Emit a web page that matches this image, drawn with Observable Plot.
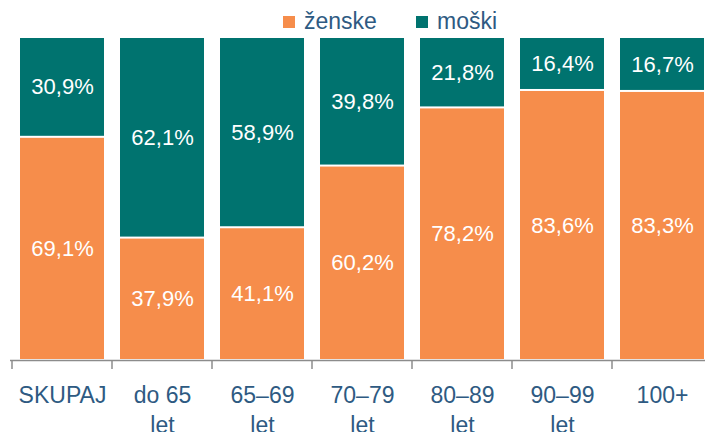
<!DOCTYPE html>
<html>
<head>
<meta charset="utf-8">
<script src="https://cdn.jsdelivr.net/npm/d3@7"></script>
<script src="https://cdn.jsdelivr.net/npm/@observablehq/plot@0.6"></script>
<style>
  html, body { margin: 0; padding: 0; background: #fff; overflow: hidden; width: 705px; height: 432px; }
  body { font-family: "Liberation Sans", Arial, sans-serif; }
  #legend { position: relative; height: 36px; width: 705px; }
  .item { position: absolute; top: 8px; display: flex; align-items: center; font-size: 23px; color: #2E5A82; line-height: 26px; }
  .sw { width: 12px; height: 12px; margin-right: 9px; margin-top: 1px; }
  #chart svg { max-width: none !important; display: block; }
</style>
</head>
<body>
<div id="legend">
  <div class="item" style="left:283px"><span class="sw" style="background:#F68D4B"></span>ženske</div>
  <div class="item" style="left:416px"><span class="sw" style="background:#00736F"></span>moški</div>
</div>
<div id="chart"></div>
<script>
const categories = ["SKUPAJ", "do 65 let", "65–69 let", "70–79 let", "80–89 let", "90–99 let", "100+"];
const tickLabels = ["SKUPAJ", "do 65\nlet", "65–69\nlet", "70–79\nlet", "80–89\nlet", "90–99\nlet", "100+"];
const zenske = [69.1, 37.9, 41.1, 60.2, 78.2, 83.6, 83.3];
const moski = [30.9, 62.1, 58.9, 39.8, 21.8, 16.4, 16.7];
const seriesNames = ["ženske", "moški"];
const colors = ["#F68D4B", "#00736F"];

const data = [];
categories.forEach((c, i) => {
  data.push({cat: c, spol: seriesNames[0], v: zenske[i]});
  data.push({cat: c, spol: seriesNames[1], v: moski[i]});
});
const fmt = v => v.toFixed(1).replace(".", ",") + "%";
const labelOf = Object.fromEntries(categories.map((c, i) => [c, tickLabels[i]]));

const chart = Plot.plot({
  width: 714,
  height: 396,
  marginLeft: 10,
  marginRight: 0,
  marginTop: 1,
  marginBottom: 72,
  style: {fontFamily: "'Liberation Sans', Arial, sans-serif", background: "white", maxWidth: "none"},
  x: {domain: categories, paddingInner: 0.165, paddingOuter: 0.0825, align: 0.5, label: null},
  y: {domain: [0, 100], axis: null},
  color: {domain: seriesNames, range: colors},
  marks: [
    Plot.barY(data, Plot.stackY({x: "cat", y: "v", fill: "spol", order: null, insetTop: 1, insetBottom: 1})),
    Plot.text(data, Plot.stackY({x: "cat", y: "v", z: "spol", order: null, text: d => fmt(d.v), fill: "white", fontSize: 22})),
    Plot.ruleY([0], {stroke: "#8C8C8C", strokeWidth: 1.5}),
    Plot.axisX({tickSize: 0, tickPadding: 21, fontSize: 23, fill: "#2E5A82", lineHeight: 1.3, tickFormat: d => labelOf[d], label: null})
  ]
});
document.getElementById("chart").appendChild(chart);

// tick marks at band boundaries, placed with Plot's own x and y scales
const xs = chart.scale("x");
const ys = chart.scale("y");
const y0 = ys.apply(0);
const svg = d3.select(chart);
const bounds = categories.map(c => xs.apply(c) - (xs.step - xs.bandwidth) / 2);
svg.append("g").selectAll("line").data(bounds).join("line")
  .attr("x1", d => d).attr("x2", d => d)
  .attr("y1", y0).attr("y2", y0 + 9)
  .attr("stroke", "#8C8C8C").attr("stroke-width", 1.5);
</script>
</body>
</html>
